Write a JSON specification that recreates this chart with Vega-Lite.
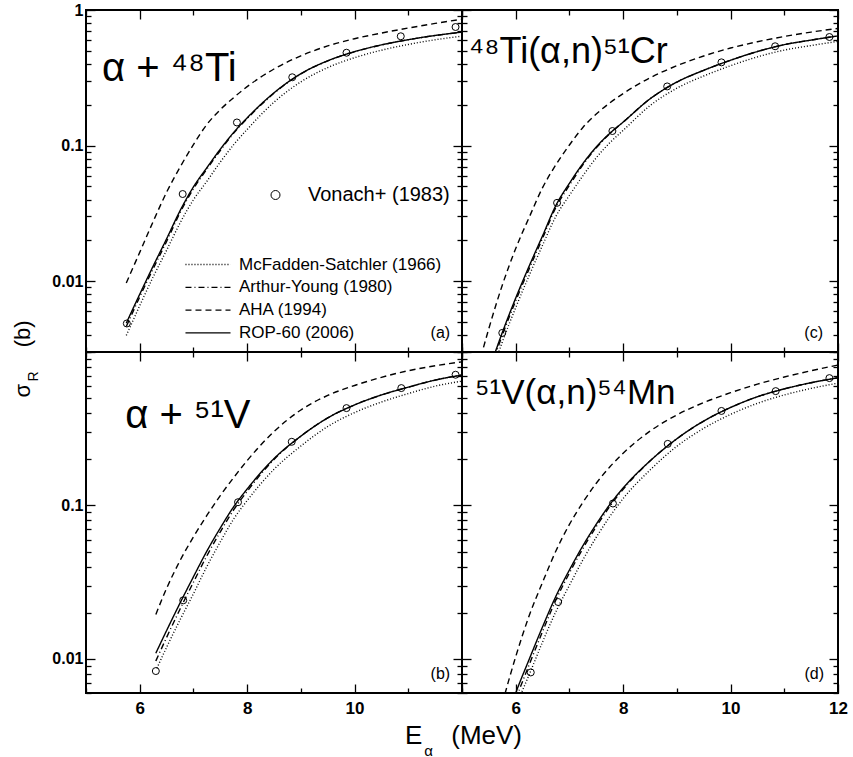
{
  "$schema": "https://vega.github.io/schema/vega-lite/v6.json",
  "padding": {"left": 10, "top": 1, "right": 0, "bottom": 0},
  "background": "white",
  "datasets": {
    "curves": [
      {"p":"a","m":"ROP-60 (2006)","E":5.75,"s":0.0049},{"p":"a","m":"ROP-60 (2006)","E":6,"s":0.008},{"p":"a","m":"ROP-60 (2006)","E":6.25,"s":0.0129},{"p":"a","m":"ROP-60 (2006)","E":6.5,"s":0.0205},{"p":"a","m":"ROP-60 (2006)","E":6.75,"s":0.033},{"p":"a","m":"ROP-60 (2006)","E":7,"s":0.0495},{"p":"a","m":"ROP-60 (2006)","E":7.25,"s":0.0686},{"p":"a","m":"ROP-60 (2006)","E":7.5,"s":0.094},{"p":"a","m":"ROP-60 (2006)","E":7.75,"s":0.125},{"p":"a","m":"ROP-60 (2006)","E":8,"s":0.16},{"p":"a","m":"ROP-60 (2006)","E":8.5,"s":0.245},{"p":"a","m":"ROP-60 (2006)","E":9,"s":0.339},{"p":"a","m":"ROP-60 (2006)","E":9.5,"s":0.422},{"p":"a","m":"ROP-60 (2006)","E":10,"s":0.493},{"p":"a","m":"ROP-60 (2006)","E":10.5,"s":0.553},{"p":"a","m":"ROP-60 (2006)","E":11,"s":0.604},{"p":"a","m":"ROP-60 (2006)","E":11.5,"s":0.649},{"p":"a","m":"ROP-60 (2006)","E":12,"s":0.687},
      {"p":"a","m":"Arthur-Young (1980)","E":5.75,"s":0.00462},{"p":"a","m":"Arthur-Young (1980)","E":6,"s":0.00764},{"p":"a","m":"Arthur-Young (1980)","E":6.25,"s":0.01233},{"p":"a","m":"Arthur-Young (1980)","E":6.5,"s":0.0196},{"p":"a","m":"Arthur-Young (1980)","E":6.75,"s":0.0319},{"p":"a","m":"Arthur-Young (1980)","E":7,"s":0.0479},{"p":"a","m":"Arthur-Young (1980)","E":7.25,"s":0.067},{"p":"a","m":"Arthur-Young (1980)","E":7.5,"s":0.0918},{"p":"a","m":"Arthur-Young (1980)","E":7.75,"s":0.1236},{"p":"a","m":"Arthur-Young (1980)","E":8,"s":0.158},{"p":"a","m":"Arthur-Young (1980)","E":8.5,"s":0.243},{"p":"a","m":"Arthur-Young (1980)","E":9,"s":0.338},{"p":"a","m":"Arthur-Young (1980)","E":9.5,"s":0.421},{"p":"a","m":"Arthur-Young (1980)","E":10,"s":0.492},{"p":"a","m":"Arthur-Young (1980)","E":10.5,"s":0.552},{"p":"a","m":"Arthur-Young (1980)","E":11,"s":0.603},{"p":"a","m":"Arthur-Young (1980)","E":11.5,"s":0.648},{"p":"a","m":"Arthur-Young (1980)","E":12,"s":0.686},
      {"p":"a","m":"McFadden-Satchler (1966)","E":5.75,"s":0.00398},{"p":"a","m":"McFadden-Satchler (1966)","E":6,"s":0.00658},{"p":"a","m":"McFadden-Satchler (1966)","E":6.25,"s":0.01074},{"p":"a","m":"McFadden-Satchler (1966)","E":6.5,"s":0.01687},{"p":"a","m":"McFadden-Satchler (1966)","E":6.75,"s":0.0268},{"p":"a","m":"McFadden-Satchler (1966)","E":7,"s":0.0398},{"p":"a","m":"McFadden-Satchler (1966)","E":7.25,"s":0.0545},{"p":"a","m":"McFadden-Satchler (1966)","E":7.5,"s":0.0755},{"p":"a","m":"McFadden-Satchler (1966)","E":7.75,"s":0.1016},{"p":"a","m":"McFadden-Satchler (1966)","E":8,"s":0.1315},{"p":"a","m":"McFadden-Satchler (1966)","E":8.5,"s":0.209},{"p":"a","m":"McFadden-Satchler (1966)","E":9,"s":0.295},{"p":"a","m":"McFadden-Satchler (1966)","E":9.5,"s":0.376},{"p":"a","m":"McFadden-Satchler (1966)","E":10,"s":0.445},{"p":"a","m":"McFadden-Satchler (1966)","E":10.5,"s":0.505},{"p":"a","m":"McFadden-Satchler (1966)","E":11,"s":0.557},{"p":"a","m":"McFadden-Satchler (1966)","E":11.5,"s":0.603},{"p":"a","m":"McFadden-Satchler (1966)","E":12,"s":0.641},
      {"p":"a","m":"AHA (1994)","E":5.75,"s":0.0097},{"p":"a","m":"AHA (1994)","E":6,"s":0.0163},{"p":"a","m":"AHA (1994)","E":6.25,"s":0.0275},{"p":"a","m":"AHA (1994)","E":6.5,"s":0.0452},{"p":"a","m":"AHA (1994)","E":6.75,"s":0.0692},{"p":"a","m":"AHA (1994)","E":7,"s":0.1016},{"p":"a","m":"AHA (1994)","E":7.25,"s":0.143},{"p":"a","m":"AHA (1994)","E":7.5,"s":0.184},{"p":"a","m":"AHA (1994)","E":7.75,"s":0.226},{"p":"a","m":"AHA (1994)","E":8,"s":0.272},{"p":"a","m":"AHA (1994)","E":8.5,"s":0.367},{"p":"a","m":"AHA (1994)","E":9,"s":0.459},{"p":"a","m":"AHA (1994)","E":9.5,"s":0.543},{"p":"a","m":"AHA (1994)","E":10,"s":0.614},{"p":"a","m":"AHA (1994)","E":10.5,"s":0.676},{"p":"a","m":"AHA (1994)","E":11,"s":0.736},{"p":"a","m":"AHA (1994)","E":11.5,"s":0.796},{"p":"a","m":"AHA (1994)","E":12,"s":0.855},

      {"p":"c","m":"ROP-60 (2006)","E":5.6,"s":0.00285},{"p":"c","m":"ROP-60 (2006)","E":5.75,"s":0.00417},{"p":"c","m":"ROP-60 (2006)","E":6,"s":0.0075},{"p":"c","m":"ROP-60 (2006)","E":6.25,"s":0.0129},{"p":"c","m":"ROP-60 (2006)","E":6.5,"s":0.0216},{"p":"c","m":"ROP-60 (2006)","E":6.75,"s":0.0363},{"p":"c","m":"ROP-60 (2006)","E":7,"s":0.0527},{"p":"c","m":"ROP-60 (2006)","E":7.25,"s":0.0736},{"p":"c","m":"ROP-60 (2006)","E":7.5,"s":0.0977},{"p":"c","m":"ROP-60 (2006)","E":7.75,"s":0.123},{"p":"c","m":"ROP-60 (2006)","E":8,"s":0.149},{"p":"c","m":"ROP-60 (2006)","E":8.5,"s":0.221},{"p":"c","m":"ROP-60 (2006)","E":9,"s":0.294},{"p":"c","m":"ROP-60 (2006)","E":9.5,"s":0.359},{"p":"c","m":"ROP-60 (2006)","E":10,"s":0.426},{"p":"c","m":"ROP-60 (2006)","E":10.5,"s":0.494},{"p":"c","m":"ROP-60 (2006)","E":11,"s":0.555},{"p":"c","m":"ROP-60 (2006)","E":11.5,"s":0.6},{"p":"c","m":"ROP-60 (2006)","E":12,"s":0.644},
      {"p":"c","m":"Arthur-Young (1980)","E":5.6,"s":0.00272},{"p":"c","m":"Arthur-Young (1980)","E":5.75,"s":0.00398},{"p":"c","m":"Arthur-Young (1980)","E":6,"s":0.00716},{"p":"c","m":"Arthur-Young (1980)","E":6.25,"s":0.0123},{"p":"c","m":"Arthur-Young (1980)","E":6.5,"s":0.0207},{"p":"c","m":"Arthur-Young (1980)","E":6.75,"s":0.0351},{"p":"c","m":"Arthur-Young (1980)","E":7,"s":0.0509},{"p":"c","m":"Arthur-Young (1980)","E":7.25,"s":0.072},{"p":"c","m":"Arthur-Young (1980)","E":7.5,"s":0.0962},{"p":"c","m":"Arthur-Young (1980)","E":7.75,"s":0.1222},{"p":"c","m":"Arthur-Young (1980)","E":8,"s":0.149},{"p":"c","m":"Arthur-Young (1980)","E":8.5,"s":0.221},{"p":"c","m":"Arthur-Young (1980)","E":9,"s":0.294},{"p":"c","m":"Arthur-Young (1980)","E":9.5,"s":0.359},{"p":"c","m":"Arthur-Young (1980)","E":10,"s":0.426},{"p":"c","m":"Arthur-Young (1980)","E":10.5,"s":0.494},{"p":"c","m":"Arthur-Young (1980)","E":11,"s":0.555},{"p":"c","m":"Arthur-Young (1980)","E":11.5,"s":0.6},{"p":"c","m":"Arthur-Young (1980)","E":12,"s":0.644},
      {"p":"c","m":"McFadden-Satchler (1966)","E":5.65,"s":0.00275},{"p":"c","m":"McFadden-Satchler (1966)","E":5.75,"s":0.00355},{"p":"c","m":"McFadden-Satchler (1966)","E":6,"s":0.00638},{"p":"c","m":"McFadden-Satchler (1966)","E":6.25,"s":0.011},{"p":"c","m":"McFadden-Satchler (1966)","E":6.5,"s":0.0184},{"p":"c","m":"McFadden-Satchler (1966)","E":6.75,"s":0.0302},{"p":"c","m":"McFadden-Satchler (1966)","E":7,"s":0.0429},{"p":"c","m":"McFadden-Satchler (1966)","E":7.25,"s":0.0598},{"p":"c","m":"McFadden-Satchler (1966)","E":7.5,"s":0.0813},{"p":"c","m":"McFadden-Satchler (1966)","E":7.75,"s":0.1047},{"p":"c","m":"McFadden-Satchler (1966)","E":8,"s":0.1294},{"p":"c","m":"McFadden-Satchler (1966)","E":8.5,"s":0.197},{"p":"c","m":"McFadden-Satchler (1966)","E":9,"s":0.265},{"p":"c","m":"McFadden-Satchler (1966)","E":9.5,"s":0.326},{"p":"c","m":"McFadden-Satchler (1966)","E":10,"s":0.388},{"p":"c","m":"McFadden-Satchler (1966)","E":10.5,"s":0.451},{"p":"c","m":"McFadden-Satchler (1966)","E":11,"s":0.506},{"p":"c","m":"McFadden-Satchler (1966)","E":11.5,"s":0.547},{"p":"c","m":"McFadden-Satchler (1966)","E":12,"s":0.587},
      {"p":"c","m":"AHA (1994)","E":5.35,"s":0.00275},{"p":"c","m":"AHA (1994)","E":5.5,"s":0.00447},{"p":"c","m":"AHA (1994)","E":5.75,"s":0.00933},{"p":"c","m":"AHA (1994)","E":6,"s":0.0174},{"p":"c","m":"AHA (1994)","E":6.25,"s":0.0295},{"p":"c","m":"AHA (1994)","E":6.5,"s":0.0489},{"p":"c","m":"AHA (1994)","E":6.75,"s":0.0724},{"p":"c","m":"AHA (1994)","E":7,"s":0.101},{"p":"c","m":"AHA (1994)","E":7.25,"s":0.136},{"p":"c","m":"AHA (1994)","E":7.5,"s":0.171},{"p":"c","m":"AHA (1994)","E":7.75,"s":0.206},{"p":"c","m":"AHA (1994)","E":8,"s":0.242},{"p":"c","m":"AHA (1994)","E":8.5,"s":0.316},{"p":"c","m":"AHA (1994)","E":9,"s":0.388},{"p":"c","m":"AHA (1994)","E":9.5,"s":0.458},{"p":"c","m":"AHA (1994)","E":10,"s":0.524},{"p":"c","m":"AHA (1994)","E":10.5,"s":0.583},{"p":"c","m":"AHA (1994)","E":11,"s":0.638},{"p":"c","m":"AHA (1994)","E":11.5,"s":0.687},{"p":"c","m":"AHA (1994)","E":12,"s":0.731},

      {"p":"b","m":"ROP-60 (2006)","E":6.3,"s":0.0109},{"p":"b","m":"ROP-60 (2006)","E":6.5,"s":0.0153},{"p":"b","m":"ROP-60 (2006)","E":6.75,"s":0.0231},{"p":"b","m":"ROP-60 (2006)","E":7,"s":0.0343},{"p":"b","m":"ROP-60 (2006)","E":7.25,"s":0.0504},{"p":"b","m":"ROP-60 (2006)","E":7.5,"s":0.0713},{"p":"b","m":"ROP-60 (2006)","E":7.75,"s":0.0982},{"p":"b","m":"ROP-60 (2006)","E":8,"s":0.128},{"p":"b","m":"ROP-60 (2006)","E":8.5,"s":0.202},{"p":"b","m":"ROP-60 (2006)","E":9,"s":0.283},{"p":"b","m":"ROP-60 (2006)","E":9.5,"s":0.372},{"p":"b","m":"ROP-60 (2006)","E":10,"s":0.452},{"p":"b","m":"ROP-60 (2006)","E":10.5,"s":0.525},{"p":"b","m":"ROP-60 (2006)","E":11,"s":0.59},{"p":"b","m":"ROP-60 (2006)","E":11.5,"s":0.656},{"p":"b","m":"ROP-60 (2006)","E":12,"s":0.708},
      {"p":"b","m":"Arthur-Young (1980)","E":6.3,"s":0.0097},{"p":"b","m":"Arthur-Young (1980)","E":6.5,"s":0.0138},{"p":"b","m":"Arthur-Young (1980)","E":6.75,"s":0.0211},{"p":"b","m":"Arthur-Young (1980)","E":7,"s":0.0316},{"p":"b","m":"Arthur-Young (1980)","E":7.25,"s":0.047},{"p":"b","m":"Arthur-Young (1980)","E":7.5,"s":0.0673},{"p":"b","m":"Arthur-Young (1980)","E":7.75,"s":0.0938},{"p":"b","m":"Arthur-Young (1980)","E":8,"s":0.1236},{"p":"b","m":"Arthur-Young (1980)","E":8.5,"s":0.1995},{"p":"b","m":"Arthur-Young (1980)","E":9,"s":0.283},{"p":"b","m":"Arthur-Young (1980)","E":9.5,"s":0.372},{"p":"b","m":"Arthur-Young (1980)","E":10,"s":0.452},{"p":"b","m":"Arthur-Young (1980)","E":10.5,"s":0.525},{"p":"b","m":"Arthur-Young (1980)","E":11,"s":0.59},{"p":"b","m":"Arthur-Young (1980)","E":11.5,"s":0.656},{"p":"b","m":"Arthur-Young (1980)","E":12,"s":0.708},
      {"p":"b","m":"McFadden-Satchler (1966)","E":6.32,"s":0.0087},{"p":"b","m":"McFadden-Satchler (1966)","E":6.5,"s":0.0119},{"p":"b","m":"McFadden-Satchler (1966)","E":6.75,"s":0.01795},{"p":"b","m":"McFadden-Satchler (1966)","E":7,"s":0.0266},{"p":"b","m":"McFadden-Satchler (1966)","E":7.25,"s":0.04},{"p":"b","m":"McFadden-Satchler (1966)","E":7.5,"s":0.0579},{"p":"b","m":"McFadden-Satchler (1966)","E":7.75,"s":0.0817},{"p":"b","m":"McFadden-Satchler (1966)","E":8,"s":0.1076},{"p":"b","m":"McFadden-Satchler (1966)","E":8.5,"s":0.172},{"p":"b","m":"McFadden-Satchler (1966)","E":9,"s":0.244},{"p":"b","m":"McFadden-Satchler (1966)","E":9.5,"s":0.327},{"p":"b","m":"McFadden-Satchler (1966)","E":10,"s":0.403},{"p":"b","m":"McFadden-Satchler (1966)","E":10.5,"s":0.472},{"p":"b","m":"McFadden-Satchler (1966)","E":11,"s":0.536},{"p":"b","m":"McFadden-Satchler (1966)","E":11.5,"s":0.599},{"p":"b","m":"McFadden-Satchler (1966)","E":12,"s":0.646},
      {"p":"b","m":"AHA (1994)","E":6.3,"s":0.0195},{"p":"b","m":"AHA (1994)","E":6.5,"s":0.0288},{"p":"b","m":"AHA (1994)","E":6.75,"s":0.0437},{"p":"b","m":"AHA (1994)","E":7,"s":0.0624},{"p":"b","m":"AHA (1994)","E":7.25,"s":0.0861},{"p":"b","m":"AHA (1994)","E":7.5,"s":0.116},{"p":"b","m":"AHA (1994)","E":7.75,"s":0.152},{"p":"b","m":"AHA (1994)","E":8,"s":0.196},{"p":"b","m":"AHA (1994)","E":8.25,"s":0.247},{"p":"b","m":"AHA (1994)","E":8.5,"s":0.303},{"p":"b","m":"AHA (1994)","E":9,"s":0.419},{"p":"b","m":"AHA (1994)","E":9.5,"s":0.521},{"p":"b","m":"AHA (1994)","E":10,"s":0.605},{"p":"b","m":"AHA (1994)","E":10.5,"s":0.684},{"p":"b","m":"AHA (1994)","E":11,"s":0.755},{"p":"b","m":"AHA (1994)","E":11.5,"s":0.813},{"p":"b","m":"AHA (1994)","E":12,"s":0.863},

      {"p":"d","m":"ROP-60 (2006)","E":5.95,"s":0.00537},{"p":"d","m":"ROP-60 (2006)","E":6,"s":0.006},{"p":"d","m":"ROP-60 (2006)","E":6.25,"s":0.00993},{"p":"d","m":"ROP-60 (2006)","E":6.5,"s":0.0162},{"p":"d","m":"ROP-60 (2006)","E":6.75,"s":0.0257},{"p":"d","m":"ROP-60 (2006)","E":7,"s":0.038},{"p":"d","m":"ROP-60 (2006)","E":7.25,"s":0.0546},{"p":"d","m":"ROP-60 (2006)","E":7.5,"s":0.0755},{"p":"d","m":"ROP-60 (2006)","E":7.75,"s":0.1012},{"p":"d","m":"ROP-60 (2006)","E":8,"s":0.13},{"p":"d","m":"ROP-60 (2006)","E":8.5,"s":0.195},{"p":"d","m":"ROP-60 (2006)","E":9,"s":0.272},{"p":"d","m":"ROP-60 (2006)","E":9.5,"s":0.355},{"p":"d","m":"ROP-60 (2006)","E":10,"s":0.435},{"p":"d","m":"ROP-60 (2006)","E":10.5,"s":0.511},{"p":"d","m":"ROP-60 (2006)","E":11,"s":0.575},{"p":"d","m":"ROP-60 (2006)","E":11.5,"s":0.631},{"p":"d","m":"ROP-60 (2006)","E":12,"s":0.679},
      {"p":"d","m":"Arthur-Young (1980)","E":6,"s":0.00548},{"p":"d","m":"Arthur-Young (1980)","E":6.25,"s":0.00916},{"p":"d","m":"Arthur-Young (1980)","E":6.5,"s":0.0151},{"p":"d","m":"Arthur-Young (1980)","E":6.75,"s":0.0243},{"p":"d","m":"Arthur-Young (1980)","E":7,"s":0.0363},{"p":"d","m":"Arthur-Young (1980)","E":7.25,"s":0.0524},{"p":"d","m":"Arthur-Young (1980)","E":7.5,"s":0.0729},{"p":"d","m":"Arthur-Young (1980)","E":7.75,"s":0.0984},{"p":"d","m":"Arthur-Young (1980)","E":8,"s":0.1274},{"p":"d","m":"Arthur-Young (1980)","E":8.5,"s":0.195},{"p":"d","m":"Arthur-Young (1980)","E":9,"s":0.272},{"p":"d","m":"Arthur-Young (1980)","E":9.5,"s":0.355},{"p":"d","m":"Arthur-Young (1980)","E":10,"s":0.435},{"p":"d","m":"Arthur-Young (1980)","E":10.5,"s":0.511},{"p":"d","m":"Arthur-Young (1980)","E":11,"s":0.575},{"p":"d","m":"Arthur-Young (1980)","E":11.5,"s":0.631},{"p":"d","m":"Arthur-Young (1980)","E":12,"s":0.679},
      {"p":"d","m":"McFadden-Satchler (1966)","E":6.05,"s":0.0054},{"p":"d","m":"McFadden-Satchler (1966)","E":6.25,"s":0.00789},{"p":"d","m":"McFadden-Satchler (1966)","E":6.5,"s":0.0129},{"p":"d","m":"McFadden-Satchler (1966)","E":6.75,"s":0.0204},{"p":"d","m":"McFadden-Satchler (1966)","E":7,"s":0.0302},{"p":"d","m":"McFadden-Satchler (1966)","E":7.25,"s":0.0442},{"p":"d","m":"McFadden-Satchler (1966)","E":7.5,"s":0.0621},{"p":"d","m":"McFadden-Satchler (1966)","E":7.75,"s":0.0845},{"p":"d","m":"McFadden-Satchler (1966)","E":8,"s":0.111},{"p":"d","m":"McFadden-Satchler (1966)","E":8.5,"s":0.17},{"p":"d","m":"McFadden-Satchler (1966)","E":9,"s":0.243},{"p":"d","m":"McFadden-Satchler (1966)","E":9.5,"s":0.318},{"p":"d","m":"McFadden-Satchler (1966)","E":10,"s":0.392},{"p":"d","m":"McFadden-Satchler (1966)","E":10.5,"s":0.463},{"p":"d","m":"McFadden-Satchler (1966)","E":11,"s":0.525},{"p":"d","m":"McFadden-Satchler (1966)","E":11.5,"s":0.579},{"p":"d","m":"McFadden-Satchler (1966)","E":12,"s":0.627},
      {"p":"d","m":"AHA (1994)","E":5.75,"s":0.00513},{"p":"d","m":"AHA (1994)","E":6,"s":0.01035},{"p":"d","m":"AHA (1994)","E":6.25,"s":0.0191},{"p":"d","m":"AHA (1994)","E":6.5,"s":0.0316},{"p":"d","m":"AHA (1994)","E":6.75,"s":0.0507},{"p":"d","m":"AHA (1994)","E":7,"s":0.0753},{"p":"d","m":"AHA (1994)","E":7.25,"s":0.1047},{"p":"d","m":"AHA (1994)","E":7.5,"s":0.1396},{"p":"d","m":"AHA (1994)","E":7.75,"s":0.178},{"p":"d","m":"AHA (1994)","E":8,"s":0.219},{"p":"d","m":"AHA (1994)","E":8.5,"s":0.305},{"p":"d","m":"AHA (1994)","E":9,"s":0.389},{"p":"d","m":"AHA (1994)","E":9.5,"s":0.468},{"p":"d","m":"AHA (1994)","E":10,"s":0.543},{"p":"d","m":"AHA (1994)","E":10.5,"s":0.617},{"p":"d","m":"AHA (1994)","E":11,"s":0.687},{"p":"d","m":"AHA (1994)","E":11.5,"s":0.755},{"p":"d","m":"AHA (1994)","E":12,"s":0.822}
    ],
    "pts": [
      {"p":"a","src":"Vonach+ (1983)","E":5.76,"s":0.00487},{"p":"a","src":"Vonach+ (1983)","E":6.8,"s":0.0439},{"p":"a","src":"Vonach+ (1983)","E":7.81,"s":0.148},{"p":"a","src":"Vonach+ (1983)","E":8.84,"s":0.319},{"p":"a","src":"Vonach+ (1983)","E":9.85,"s":0.484},{"p":"a","src":"Vonach+ (1983)","E":10.86,"s":0.64},{"p":"a","src":"Vonach+ (1983)","E":11.88,"s":0.749},
      {"p":"c","src":"Vonach+ (1983)","E":5.75,"s":0.00415},{"p":"c","src":"Vonach+ (1983)","E":6.77,"s":0.0378},{"p":"c","src":"Vonach+ (1983)","E":7.8,"s":0.128},{"p":"c","src":"Vonach+ (1983)","E":8.82,"s":0.273},{"p":"c","src":"Vonach+ (1983)","E":9.83,"s":0.411},{"p":"c","src":"Vonach+ (1983)","E":10.83,"s":0.54},{"p":"c","src":"Vonach+ (1983)","E":11.84,"s":0.632},
      {"p":"b","src":"Vonach+ (1983)","E":6.3,"s":0.00834},{"p":"b","src":"Vonach+ (1983)","E":6.81,"s":0.0241},{"p":"b","src":"Vonach+ (1983)","E":7.83,"s":0.105},{"p":"b","src":"Vonach+ (1983)","E":8.83,"s":0.26},{"p":"b","src":"Vonach+ (1983)","E":9.85,"s":0.431},{"p":"b","src":"Vonach+ (1983)","E":10.87,"s":0.582},{"p":"b","src":"Vonach+ (1983)","E":11.88,"s":0.711},
      {"p":"d","src":"Vonach+ (1983)","E":6.28,"s":0.00817},{"p":"d","src":"Vonach+ (1983)","E":6.79,"s":0.0235},{"p":"d","src":"Vonach+ (1983)","E":7.81,"s":0.103},{"p":"d","src":"Vonach+ (1983)","E":8.83,"s":0.252},{"p":"d","src":"Vonach+ (1983)","E":9.83,"s":0.413},{"p":"d","src":"Vonach+ (1983)","E":10.84,"s":0.556},{"p":"d","src":"Vonach+ (1983)","E":11.84,"s":0.676}
    ],
    "lab": [
      {"p":"a","k":"big","E":5.3,"s":0.299,"t":"α + ⁴⁸Ti"},
      {"p":"a","k":"corner","E":11.78,"s":0.0038,"t":"(a)"},
      {"p":"c","k":"big","E":5.127,"s":0.408,"t":"⁴⁸Ti(α,n)⁵¹Cr"},
      {"p":"c","k":"corner","E":11.72,"s":0.0038,"t":"(c)"},
      {"p":"b","k":"big","E":5.73,"s":0.321,"t":"α + ⁵¹V"},
      {"p":"b","k":"corner","E":11.78,"s":0.0074,"t":"(b)"},
      {"p":"d","k":"big","E":5.244,"s":0.457,"t":"⁵¹V(α,n)⁵⁴Mn"},
      {"p":"d","k":"corner","E":11.74,"s":0.0074,"t":"(d)"}
    ]
  },
  "columns": 2,
  "spacing": 0,
  "bounds": "flush",
  "resolve": {"scale": {"strokeDash": "independent", "shape": "independent"}},
  "concat": [
    {
      "width": 376, "height": 342,
      "layer": [
        {
          "data": {"name": "curves"}, "transform": [{"filter": "datum.p == 'a'"}],
          "mark": {"type": "line", "clip": true, "color": "black", "strokeWidth": 1.4, "interpolate": "monotone"},
          "encoding": {
            "x": {"field": "E", "type": "quantitative", "scale": {"domain": [5, 12], "nice": false, "zero": false},
              "axis": {"orient": "bottom", "values": [5,6,7,8,9,10,11,12], "labels": false, "title": null, "tickSize": {"condition": {"test": "datum.value % 2 == 0", "value": -9}, "value": -5}}},
            "y": {"field": "s", "type": "quantitative", "scale": {"type": "log", "domain": [0.003, 1], "nice": false},
              "axis": {"orient": "left", "values": [0.003,0.004,0.005,0.006,0.007,0.008,0.009,0.01,0.02,0.03,0.04,0.05,0.06,0.07,0.08,0.09,0.1,0.2,0.3,0.4,0.5,0.6,0.7,0.8,0.9,1],
                "tickSize": {"condition": {"test": "datum.value == 1 || datum.value == 0.1 || datum.value == 0.01", "value": -9}, "value": -5},
                "labelPadding": 12,
                "labelExpr": "datum.value == 1 ? '1' : datum.value == 0.1 ? '0.1' : datum.value == 0.01 ? '0.01' : ''",
                "title": "σ\u00a0\u00a0\u00a0\u00a0\u00a0\u00a0(b)", "titleFontSize": 22, "titleAngle": 270, "titleBaseline": "alphabetic", "titleAlign": "center", "titleX": -57, "titleY": 348.5}},
            "strokeDash": {"field": "m", "type": "nominal",
              "scale": {"domain": ["McFadden-Satchler (1966)", "Arthur-Young (1980)", "AHA (1994)", "ROP-60 (2006)"], "range": [[1,2],[6,3,1,3],[6,4],[1,0]]},
              "legend": {"orient": "none", "legendX": 109, "legendY": 241.5, "title": null, "direction": "vertical", "symbolType": "M-1.9,0H1.9", "symbolSize": 562, "symbolStrokeWidth": 1.3, "symbolStrokeColor": "black", "labelFontSize": 17, "labelFont": "Liberation Sans", "labelColor": "black", "labelOffset": 18, "labelLimit": 400, "rowPadding": 1.8, "padding": 0}}
          }
        },
        {
          "data": {"name": "pts"}, "transform": [{"filter": "datum.p == 'a'"}],
          "mark": {"type": "point", "filled": false, "size": 49, "color": "black", "strokeWidth": 1, "opacity": 1},
          "encoding": {
            "x": {"field": "E", "type": "quantitative", "scale": {"domain": [5, 12], "nice": false, "zero": false},
              "axis": {"orient": "top", "values": [5,6,7,8,9,10,11,12], "labels": false, "title": null, "tickSize": {"condition": {"test": "datum.value % 2 == 0", "value": -9}, "value": -5}}},
            "y": {"field": "s", "type": "quantitative", "scale": {"type": "log", "domain": [0.003, 1], "nice": false},
              "axis": {"orient": "right", "values": [0.003,0.004,0.005,0.006,0.007,0.008,0.009,0.01,0.02,0.03,0.04,0.05,0.06,0.07,0.08,0.09,0.1,0.2,0.3,0.4,0.5,0.6,0.7,0.8,0.9,1], "labels": false, "title": null,
                "tickSize": {"condition": {"test": "datum.value == 1 || datum.value == 0.1 || datum.value == 0.01", "value": -9}, "value": -5}}},
            "shape": {"field": "src", "type": "nominal", "scale": {"range": ["circle"]},
              "legend": {"orient": "none", "legendX": 179.5, "legendY": 175, "title": null, "symbolSize": 81, "symbolStrokeWidth": 1, "symbolStrokeColor": "black", "symbolFillColor": "transparent", "labelFontSize": 20, "labelFont": "Liberation Sans", "labelColor": "black", "labelOffset": 22.5, "labelLimit": 400, "padding": 0}}
          }
        },
        {
          "data": {"name": "lab"}, "transform": [{"filter": "datum.p == 'a'"}],
          "encoding": {
            "x": {"field": "E", "type": "quantitative", "scale": {"domain": [5, 12], "nice": false, "zero": false}, "axis": null},
            "y": {"field": "s", "type": "quantitative", "scale": {"type": "log", "domain": [0.003, 1], "nice": false},
              "axis": {"orient": "left", "ticks": false, "labels": false, "title": "R", "titleFontSize": 14, "titleAngle": 270, "titleBaseline": "alphabetic", "titleAlign": "center", "titleX": -49, "titleY": 366}},
            "text": {"field": "t"}
          },
          "layer": [
            {"transform": [{"filter": "datum.k == 'big'"}], "mark": {"type": "text", "align": "left", "baseline": "alphabetic", "fontSize": 40, "font": "Liberation Sans", "color": "black"}},
            {"transform": [{"filter": "datum.k == 'corner'"}], "mark": {"type": "text", "align": "right", "baseline": "alphabetic", "fontSize": 16, "font": "Liberation Sans", "color": "black"}}
          ]
        }
      ],
      "resolve": {"scale": {"x": "independent", "y": "independent"}}
    },
    {
      "width": 376, "height": 342,
      "layer": [
        {
          "data": {"name": "curves"}, "transform": [{"filter": "datum.p == 'c'"}],
          "mark": {"type": "line", "clip": true, "color": "black", "strokeWidth": 1.4, "interpolate": "monotone"},
          "encoding": {
            "x": {"field": "E", "type": "quantitative", "scale": {"domain": [5, 12], "nice": false, "zero": false},
              "axis": {"orient": "bottom", "values": [5,6,7,8,9,10,11,12], "labels": false, "title": null, "tickSize": {"condition": {"test": "datum.value % 2 == 0", "value": -9}, "value": -5}}},
            "y": {"field": "s", "type": "quantitative", "scale": {"type": "log", "domain": [0.003, 1], "nice": false},
              "axis": {"orient": "left", "values": [0.003,0.004,0.005,0.006,0.007,0.008,0.009,0.01,0.02,0.03,0.04,0.05,0.06,0.07,0.08,0.09,0.1,0.2,0.3,0.4,0.5,0.6,0.7,0.8,0.9,1], "labels": false, "title": null,
                "tickSize": {"condition": {"test": "datum.value == 1 || datum.value == 0.1 || datum.value == 0.01", "value": -9}, "value": -5}}},
            "strokeDash": {"field": "m", "type": "nominal",
              "scale": {"domain": ["McFadden-Satchler (1966)", "Arthur-Young (1980)", "AHA (1994)", "ROP-60 (2006)"], "range": [[1,2],[6,3,1,3],[6,4],[1,0]]}, "legend": null}
          }
        },
        {
          "data": {"name": "pts"}, "transform": [{"filter": "datum.p == 'c'"}],
          "mark": {"type": "point", "filled": false, "size": 49, "color": "black", "strokeWidth": 1, "opacity": 1},
          "encoding": {
            "x": {"field": "E", "type": "quantitative", "scale": {"domain": [5, 12], "nice": false, "zero": false},
              "axis": {"orient": "top", "values": [5,6,7,8,9,10,11,12], "labels": false, "title": null, "tickSize": {"condition": {"test": "datum.value % 2 == 0", "value": -9}, "value": -5}}},
            "y": {"field": "s", "type": "quantitative", "scale": {"type": "log", "domain": [0.003, 1], "nice": false},
              "axis": {"orient": "right", "values": [0.003,0.004,0.005,0.006,0.007,0.008,0.009,0.01,0.02,0.03,0.04,0.05,0.06,0.07,0.08,0.09,0.1,0.2,0.3,0.4,0.5,0.6,0.7,0.8,0.9,1], "labels": false, "title": null,
                "tickSize": {"condition": {"test": "datum.value == 1 || datum.value == 0.1 || datum.value == 0.01", "value": -9}, "value": -5}}}
          }
        },
        {
          "data": {"name": "lab"}, "transform": [{"filter": "datum.p == 'c'"}],
          "encoding": {
            "x": {"field": "E", "type": "quantitative", "scale": {"domain": [5, 12], "nice": false, "zero": false}, "axis": null},
            "y": {"field": "s", "type": "quantitative", "scale": {"type": "log", "domain": [0.003, 1], "nice": false}, "axis": null},
            "text": {"field": "t"}
          },
          "layer": [
            {"transform": [{"filter": "datum.k == 'big'"}], "mark": {"type": "text", "align": "left", "baseline": "alphabetic", "fontSize": 36, "font": "Liberation Sans", "color": "black"}},
            {"transform": [{"filter": "datum.k == 'corner'"}], "mark": {"type": "text", "align": "right", "baseline": "alphabetic", "fontSize": 16, "font": "Liberation Sans", "color": "black"}}
          ]
        }
      ],
      "resolve": {"scale": {"x": "independent", "y": "independent"}}
    },
    {
      "width": 376, "height": 341,
      "layer": [
        {
          "data": {"name": "curves"}, "transform": [{"filter": "datum.p == 'b'"}],
          "mark": {"type": "line", "clip": true, "color": "black", "strokeWidth": 1.4, "interpolate": "monotone"},
          "encoding": {
            "x": {"field": "E", "type": "quantitative", "scale": {"domain": [5, 12], "nice": false, "zero": false},
              "axis": {"orient": "bottom", "values": [5,6,7,8,9,10,11,12], "labelFontSize": 17, "labelPadding": 16,
                "labelExpr": "datum.value == 6 || datum.value == 8 || datum.value == 10 ? datum.label : ''",
                "tickSize": {"condition": {"test": "datum.value % 2 == 0", "value": -9}, "value": -5},
                "title": "E\u00a0\u00a0\u00a0\u00a0(MeV)", "titleFontSize": 26, "titleBaseline": "alphabetic", "titleAlign": "center", "titleX": 377, "titleY": 50}},
            "y": {"field": "s", "type": "quantitative", "scale": {"type": "log", "domain": [0.006, 1], "nice": false},
              "axis": {"orient": "left", "values": [0.006,0.007,0.008,0.009,0.01,0.02,0.03,0.04,0.05,0.06,0.07,0.08,0.09,0.1,0.2,0.3,0.4,0.5,0.6,0.7,0.8,0.9,1],
                "tickSize": {"condition": {"test": "datum.value == 1 || datum.value == 0.1 || datum.value == 0.01", "value": -9}, "value": -5},
                "labelPadding": 12,
                "labelExpr": "datum.value == 0.1 ? '0.1' : datum.value == 0.01 ? '0.01' : ''", "title": null}},
            "strokeDash": {"field": "m", "type": "nominal",
              "scale": {"domain": ["McFadden-Satchler (1966)", "Arthur-Young (1980)", "AHA (1994)", "ROP-60 (2006)"], "range": [[1,2],[6,3,1,3],[6,4],[1,0]]}, "legend": null}
          }
        },
        {
          "data": {"name": "pts"}, "transform": [{"filter": "datum.p == 'b'"}],
          "mark": {"type": "point", "filled": false, "size": 49, "color": "black", "strokeWidth": 1, "opacity": 1},
          "encoding": {
            "x": {"field": "E", "type": "quantitative", "scale": {"domain": [5, 12], "nice": false, "zero": false},
              "axis": {"orient": "top", "values": [5,6,7,8,9,10,11,12], "labels": false, "title": null, "tickSize": {"condition": {"test": "datum.value % 2 == 0", "value": -9}, "value": -5}}},
            "y": {"field": "s", "type": "quantitative", "scale": {"type": "log", "domain": [0.006, 1], "nice": false},
              "axis": {"orient": "right", "values": [0.006,0.007,0.008,0.009,0.01,0.02,0.03,0.04,0.05,0.06,0.07,0.08,0.09,0.1,0.2,0.3,0.4,0.5,0.6,0.7,0.8,0.9,1], "labels": false, "title": null,
                "tickSize": {"condition": {"test": "datum.value == 1 || datum.value == 0.1 || datum.value == 0.01", "value": -9}, "value": -5}}}
          }
        },
        {
          "data": {"name": "lab"}, "transform": [{"filter": "datum.p == 'b'"}],
          "encoding": {
            "x": {"field": "E", "type": "quantitative", "scale": {"domain": [5, 12], "nice": false, "zero": false},
              "axis": {"orient": "bottom", "ticks": false, "labels": false, "title": "α", "titleFontSize": 15, "titleBaseline": "alphabetic", "titleAlign": "center", "titleX": 342, "titleY": 62}},
            "y": {"field": "s", "type": "quantitative", "scale": {"type": "log", "domain": [0.006, 1], "nice": false}, "axis": null},
            "text": {"field": "t"}
          },
          "layer": [
            {"transform": [{"filter": "datum.k == 'big'"}], "mark": {"type": "text", "align": "left", "baseline": "alphabetic", "fontSize": 40, "font": "Liberation Sans", "color": "black"}},
            {"transform": [{"filter": "datum.k == 'corner'"}], "mark": {"type": "text", "align": "right", "baseline": "alphabetic", "fontSize": 16, "font": "Liberation Sans", "color": "black"}}
          ]
        }
      ],
      "resolve": {"scale": {"x": "independent", "y": "independent"}}
    },
    {
      "width": 376, "height": 341,
      "layer": [
        {
          "data": {"name": "curves"}, "transform": [{"filter": "datum.p == 'd'"}],
          "mark": {"type": "line", "clip": true, "color": "black", "strokeWidth": 1.4, "interpolate": "monotone"},
          "encoding": {
            "x": {"field": "E", "type": "quantitative", "scale": {"domain": [5, 12], "nice": false, "zero": false},
              "axis": {"orient": "bottom", "values": [5,6,7,8,9,10,11,12], "labelFontSize": 17, "labelPadding": 16,
                "labelExpr": "datum.value % 2 == 0 ? datum.label : ''",
                "tickSize": {"condition": {"test": "datum.value % 2 == 0", "value": -9}, "value": -5}, "title": null}},
            "y": {"field": "s", "type": "quantitative", "scale": {"type": "log", "domain": [0.006, 1], "nice": false},
              "axis": {"orient": "left", "values": [0.006,0.007,0.008,0.009,0.01,0.02,0.03,0.04,0.05,0.06,0.07,0.08,0.09,0.1,0.2,0.3,0.4,0.5,0.6,0.7,0.8,0.9,1], "labels": false, "title": null,
                "tickSize": {"condition": {"test": "datum.value == 1 || datum.value == 0.1 || datum.value == 0.01", "value": -9}, "value": -5}}},
            "strokeDash": {"field": "m", "type": "nominal",
              "scale": {"domain": ["McFadden-Satchler (1966)", "Arthur-Young (1980)", "AHA (1994)", "ROP-60 (2006)"], "range": [[1,2],[6,3,1,3],[6,4],[1,0]]}, "legend": null}
          }
        },
        {
          "data": {"name": "pts"}, "transform": [{"filter": "datum.p == 'd'"}],
          "mark": {"type": "point", "filled": false, "size": 49, "color": "black", "strokeWidth": 1, "opacity": 1},
          "encoding": {
            "x": {"field": "E", "type": "quantitative", "scale": {"domain": [5, 12], "nice": false, "zero": false},
              "axis": {"orient": "top", "values": [5,6,7,8,9,10,11,12], "labels": false, "title": null, "tickSize": {"condition": {"test": "datum.value % 2 == 0", "value": -9}, "value": -5}}},
            "y": {"field": "s", "type": "quantitative", "scale": {"type": "log", "domain": [0.006, 1], "nice": false},
              "axis": {"orient": "right", "values": [0.006,0.007,0.008,0.009,0.01,0.02,0.03,0.04,0.05,0.06,0.07,0.08,0.09,0.1,0.2,0.3,0.4,0.5,0.6,0.7,0.8,0.9,1], "labels": false, "title": null,
                "tickSize": {"condition": {"test": "datum.value == 1 || datum.value == 0.1 || datum.value == 0.01", "value": -9}, "value": -5}}}
          }
        },
        {
          "data": {"name": "lab"}, "transform": [{"filter": "datum.p == 'd'"}],
          "encoding": {
            "x": {"field": "E", "type": "quantitative", "scale": {"domain": [5, 12], "nice": false, "zero": false}, "axis": null},
            "y": {"field": "s", "type": "quantitative", "scale": {"type": "log", "domain": [0.006, 1], "nice": false}, "axis": null},
            "text": {"field": "t"}
          },
          "layer": [
            {"transform": [{"filter": "datum.k == 'big'"}], "mark": {"type": "text", "align": "left", "baseline": "alphabetic", "fontSize": 35, "font": "Liberation Sans", "color": "black"}},
            {"transform": [{"filter": "datum.k == 'corner'"}], "mark": {"type": "text", "align": "right", "baseline": "alphabetic", "fontSize": 16, "font": "Liberation Sans", "color": "black"}}
          ]
        }
      ],
      "resolve": {"scale": {"x": "independent", "y": "independent"}}
    }
  ],
  "config": {
    "font": "Liberation Sans",
    "view": {"stroke": "black", "strokeWidth": 2},
    "axis": {"domain": false, "grid": false, "tickColor": "black", "tickWidth": 1.3, "labelFont": "Liberation Sans", "labelFontSize": 16, "labelFontWeight": "bold", "labelColor": "black", "labelFlush": false, "labelOverlap": false, "titleColor": "black", "titleFont": "Liberation Sans", "titleFontWeight": "normal"},
    "legend": {"labelFontWeight": "normal"}
  }
}
